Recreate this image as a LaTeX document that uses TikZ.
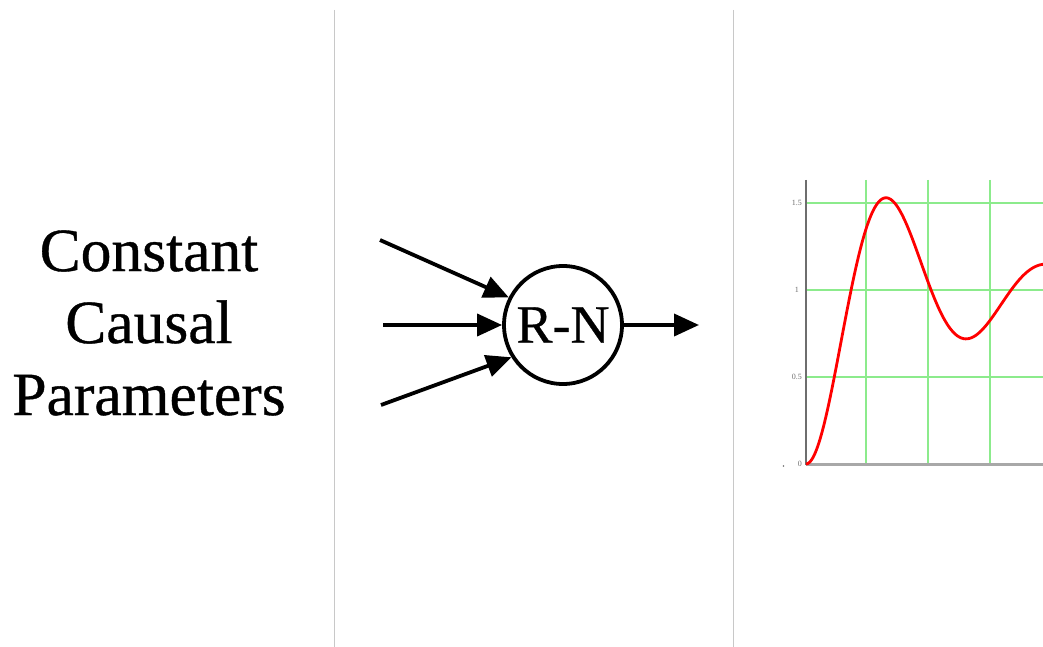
\documentclass[tikz,border=0pt]{standalone}
\usepackage{fontspec}
\setmainfont{Liberation Serif}
\newfontfamily\heavyserif{Liberation Serif}[FakeBold=0.6]
\usetikzlibrary{arrows.meta}
\definecolor{sepgray}{RGB}{200,200,200}
\definecolor{gridgreen}{RGB}{140,235,140}
\definecolor{axisgray}{RGB}{110,110,110}
\tikzset{
  sepline/.style={draw=sepgray, line width=1.5pt},
  arr/.style={line width=3.8pt, -{Triangle[length=25pt,width=22pt]}},
  gridline/.style={draw=gridgreen, line width=1.2pt},
  ticklbl/.style={font=\fontsize{8}{9}\selectfont, text=axisgray, inner sep=0pt, anchor=east},
}
\begin{document}
\begin{tikzpicture}[x=1pt,y=-1pt]
\useasboundingbox (0,0) rectangle (1043,647);
\fill[white] (0,0) rectangle (1043,647);
% separators
\coordinate (s1t) at (334.5,10); \coordinate (s1b) at (334.5,647);
\coordinate (s2t) at (733.5,10); \coordinate (s2b) at (733.5,647);
\draw[sepline] (s1t) -- (s1b);
\draw[sepline] (s2t) -- (s2b);
% left text
\node[align=center, font=\heavyserif\fontsize{61.5}{72}\selectfont, inner sep=0pt] (txt) at (149,323) {Constant\\Causal\\Parameters};
% R-N node
\node[circle, draw, line width=3.8pt, minimum size=118pt, inner sep=0pt, font=\heavyserif\fontsize{54}{60}\selectfont] (rn) at (563,325) {R-N};
\coordinate (in1) at (380,240);
\coordinate (in2) at (383,325);
\coordinate (in3) at (381,405);
\coordinate (out) at (699,325);
\draw[arr] (in1) -- (rn.153);
\draw[arr] (in2) -- (rn.west);
\draw[arr] (in3) -- (rn.212);
\draw[arr] (rn.east) -- (out);
% graph
\begin{scope}
\clip (740,0) rectangle (1043,647);
\foreach \gx in {866,928,990} \draw[gridline] (\gx,180) -- (\gx,464);
\foreach \gy in {203,290,377} \draw[gridline] (806,\gy) -- (1043,\gy);
\draw[draw=axisgray!60, line width=3pt] (806,464) -- (1043,464);
\draw[draw=axisgray, line width=1.5pt] (806,180) -- (806,465);
\draw[red, line width=2.8pt, line join=round, smooth, samples=120, domain=0:240]
  plot ({806+\x}, {464-174*(1-exp(-0.00794*\x)*(cos(2.25*\x)+0.2022*sin(2.25*\x)))});
\end{scope}
\node[ticklbl] (l15) at (802,203) {1.5};
\node[ticklbl] (l1) at (799,290) {1};
\node[ticklbl] (l05) at (802,377) {0.5};
\node[ticklbl] (l0) at (802,464) {0};
\fill[axisgray] (783.5,466) circle (0.8pt);
\end{tikzpicture}
\end{document}
